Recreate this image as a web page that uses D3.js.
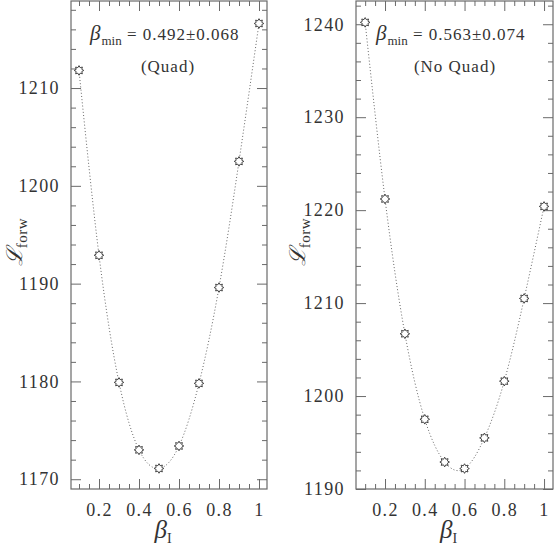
<!DOCTYPE html>
<html>
<head>
<meta charset="utf-8">
<script src="https://cdn.jsdelivr.net/npm/d3@7"></script>
<style>
  body { margin: 0; background: #fff; }
  svg { display: block; }
</style>
</head>
<body>
<svg id="chart" width="554" height="547"></svg>
<script>
// beta_I grid and the two likelihood scans
var betaI = [0.1, 0.2, 0.3, 0.4, 0.5, 0.6, 0.7, 0.8, 0.9, 1.0];
var likeQuad = [1211.8, 1192.9, 1179.9, 1173.0, 1171.1, 1173.4, 1179.8, 1189.6, 1202.5, 1216.6];
var likeNoQuad = [1240.2, 1221.2, 1206.7, 1197.5, 1192.9, 1192.2, 1195.5, 1201.6, 1210.5, 1220.4];

var xTickLabels = [0.2, 0.4, 0.6, 0.8, 1];
var yTicksQuad = [1170, 1180, 1190, 1200, 1210];
var yTicksNoQuad = [1190, 1200, 1210, 1220, 1230, 1240];

var fitQuad = { value: '0.492±0.068', tag: '(Quad)' };
var fitNoQuad = { value: '0.563±0.074', tag: '(No Quad)' };

var svg = d3.select('#chart');
var frameColor = '#6a6a6a';
var serif = '"Liberation Serif", "DejaVu Serif", serif';

function starPath(r1, r2) {
  var pts = [];
  for (var i = 0; i < 16; i++) {
    var a = i * Math.PI / 8;
    var r = i % 2 === 0 ? r1 : r2;
    pts.push([r * Math.sin(a), -r * Math.cos(a)]);
  }
  return 'M' + pts.map(function (p) { return p[0].toFixed(2) + ',' + p[1].toFixed(2); }).join('L') + 'Z';
}

function drawPanel(cfg) {
  var g = svg.append('g');
  var x = d3.scaleLinear().domain(cfg.xDomain).range([cfg.left, cfg.right]);
  var y = d3.scaleLinear().domain(cfg.yDomain).range([cfg.bottom, cfg.top]);

  var xMinor = d3.range(0.1, 1.0001, 0.05).map(function (v) { return +v.toFixed(2); })
    .filter(function (v) { return xTickLabels.indexOf(v) < 0; });
  var yMinor = d3.range(Math.ceil(cfg.yDomain[0]), cfg.yDomain[1], 1).filter(function (v) {
    return v % 2 === 0 && v % 10 !== 0;
  });

  // minor ticks, all four sides, pointing inward
  g.append('g').attr('transform', 'translate(0,' + cfg.bottom + ')')
    .call(d3.axisBottom(x).tickValues(xMinor).tickSize(-5).tickFormat(''));
  g.append('g').attr('transform', 'translate(0,' + cfg.top + ')')
    .call(d3.axisTop(x).tickValues(xMinor).tickSize(-5).tickFormat(''));
  g.append('g').attr('transform', 'translate(' + cfg.left + ',0)')
    .call(d3.axisLeft(y).tickValues(yMinor).tickSize(-5).tickFormat(''));
  g.append('g').attr('transform', 'translate(' + cfg.right + ',0)')
    .call(d3.axisRight(y).tickValues(yMinor).tickSize(-5).tickFormat(''));

  // major ticks
  g.append('g').attr('transform', 'translate(0,' + cfg.bottom + ')')
    .call(d3.axisBottom(x).tickValues(xTickLabels).tickSize(-10).tickPadding(14)
      .tickFormat(function (d) { return d === 1 ? '1' : d3.format('.1f')(d); }));
  g.append('g').attr('transform', 'translate(0,' + cfg.top + ')')
    .call(d3.axisTop(x).tickValues(xTickLabels).tickSize(-10).tickFormat(''));
  g.append('g').attr('transform', 'translate(' + cfg.left + ',0)')
    .call(d3.axisLeft(y).tickValues(cfg.yTicks).tickSize(-10).tickPadding(11)
      .tickFormat(d3.format('d')));
  g.append('g').attr('transform', 'translate(' + cfg.right + ',0)')
    .call(d3.axisRight(y).tickValues(cfg.yTicks).tickSize(-10).tickFormat(''));

  g.selectAll('.domain').remove();
  g.selectAll('.tick line').attr('stroke', frameColor).attr('stroke-width', 1);
  g.selectAll('.tick text')
    .style('font-family', serif).style('font-size', '18px')
    .style('letter-spacing', '1.4px').attr('fill', '#333');

  // frame
  g.append('rect')
    .attr('x', cfg.left).attr('y', cfg.top)
    .attr('width', cfg.right - cfg.left).attr('height', cfg.bottom - cfg.top)
    .attr('fill', 'none').attr('stroke', frameColor).attr('stroke-width', 1.2);

  // fitted curve (dotted)
  var pts = betaI.map(function (b, i) { return [b, cfg.values[i]]; });
  var line = d3.line()
    .x(function (d) { return x(d[0]); })
    .y(function (d) { return y(d[1]); })
    .curve(d3.curveNatural);
  g.append('path').datum(pts)
    .attr('d', line)
    .attr('fill', 'none')
    .attr('stroke', '#555')
    .attr('stroke-width', 0.9)
    .attr('stroke-dasharray', '1,2.2');

  // star markers
  g.selectAll('.star').data(pts).enter().append('path')
    .attr('class', 'star')
    .attr('transform', function (d) { return 'translate(' + x(d[0]) + ',' + y(d[1]) + ')'; })
    .attr('d', starPath(4.8, 3.0))
    .attr('fill', '#fff')
    .attr('stroke', '#333')
    .attr('stroke-width', 0.9);

  // annotation
  var ann = g.append('text').attr('x', cfg.annX).attr('y', cfg.annY)
    .style('font-family', serif).attr('fill', '#333')
    .style('font-size', '17px').style('letter-spacing', '1px');
  ann.append('tspan').text('β').style('font-style', 'italic').style('font-size', '21px');
  ann.append('tspan').text('min').attr('dy', 5).style('font-size', '13px').style('letter-spacing', '0px');
  ann.append('tspan').text('  =  ' + cfg.fit.value).attr('dy', -5);
  g.append('text').attr('x', cfg.tagX).attr('y', cfg.annY + 32)
    .attr('text-anchor', 'middle').attr('fill', '#333')
    .style('font-family', serif)
    .style('font-size', '17px').style('letter-spacing', '1px')
    .text(cfg.fit.tag);

  // x title
  var xt = g.append('text').attr('x', (cfg.left + cfg.right) / 2 - 6).attr('y', 538)
    .attr('text-anchor', 'middle').attr('fill', '#333').style('font-family', serif);
  xt.append('tspan').text('β').style('font-style', 'italic').style('font-size', '25px');
  xt.append('tspan').text('I').attr('dy', 5).style('font-size', '14px');

  // y title
  var yt = g.append('text')
    .attr('transform', 'translate(' + cfg.yTitleX + ',' + cfg.yTitleY + ') rotate(-90)')
    .attr('text-anchor', 'middle').attr('fill', '#333').style('font-family', serif);
  yt.append('tspan').text('ℒ').style('font-style', 'italic').style('font-size', '22px')
    .style('font-family', '"DejaVu Serif", serif');
  yt.append('tspan').text('forw').attr('dy', 5).style('font-size', '15px').style('letter-spacing', '0.5px');
}

drawPanel({
  left: 71, right: 267, top: 1, bottom: 489,
  xDomain: [0.06, 1.04], yDomain: [1169.0, 1218.9],
  yTicks: yTicksQuad, values: likeQuad, fit: fitQuad,
  annX: 90, annY: 40, tagX: 168,
  yTitleX: 22, yTitleY: 242
});

drawPanel({
  left: 356, right: 553, top: 1, bottom: 489,
  xDomain: [0.054, 1.045], yDomain: [1190, 1242.5],
  yTicks: yTicksNoQuad, values: likeNoQuad, fit: fitNoQuad,
  annX: 376, annY: 40, tagX: 455,
  yTitleX: 305, yTitleY: 242
});
</script>
</body>
</html>
